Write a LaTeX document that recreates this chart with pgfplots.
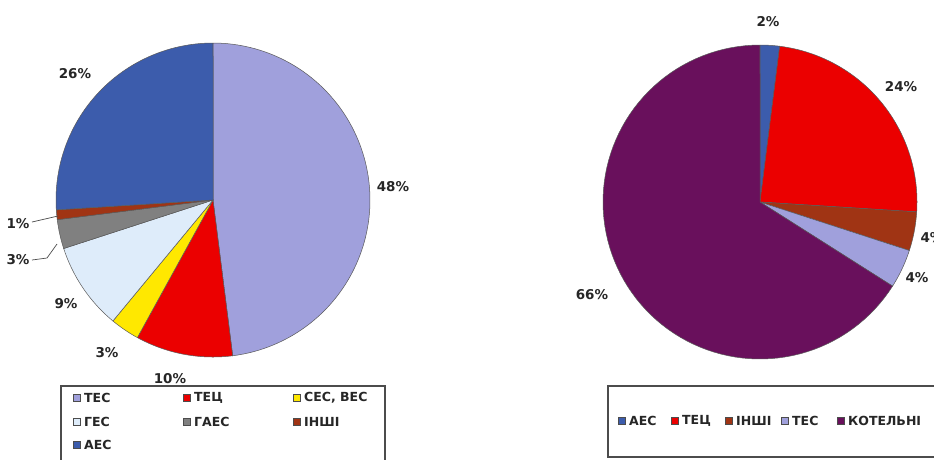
\documentclass[border=0pt]{standalone}
\usepackage{pgfplots}
\pgfplotsset{compat=1.18}
\usepackage{fontspec}
\setmainfont{DejaVu Sans}
\definecolor{tes}{RGB}{160,160,220}
\definecolor{tec}{RGB}{235,0,0}
\definecolor{ses}{RGB}{255,232,0}
\definecolor{ges}{RGB}{222,236,250}
\definecolor{gaes}{RGB}{128,128,128}
\definecolor{inshi}{RGB}{160,52,20}
\definecolor{aes}{RGB}{60,92,172}
\definecolor{kot}{RGB}{105,16,92}
% slice: cx, cy, r, start%, end%, colour  (pixel coords, y downwards)
\newcommand{\slice}[6]{%
  \addplot[fill=#6, draw=black!65, line width=0.5pt, domain=#4:#5, samples=90, variable=\t]
    ({#1+#3*cos(-90+3.6*\t)}, {#2+#3*sin(-90+3.6*\t)}) -- (axis cs:#1,#2) -- cycle;}
\newcommand{\lsq}[3]{% x, y, colour
  \draw[fill=#3, draw=black!70, line width=0.6pt] (axis cs:#1-3.5,#2-3.5) rectangle (axis cs:#1+3.5,#2+3.5);}
\begin{document}
\begin{tikzpicture}
\begin{axis}[at={(0,0)}, anchor=south west, scale only axis,
  width=934pt, height=459pt, xmin=0, xmax=934, ymin=0, ymax=459,
  y dir=reverse, hide axis, clip=false]
% full picture extent
\path (axis cs:0,0) -- (axis cs:934,459);
% ---- left pie: TES 48, TEC 10, SES/VES 3, GES 9, GAES 3, INSHI 1, AES 26
\slice{213}{200}{157}{0}{48}{tes}
\slice{213}{200}{157}{48}{58}{tec}
\slice{213}{200}{157}{58}{61}{ses}
\slice{213}{200}{157}{61}{70}{ges}
\slice{213}{200}{157}{70}{73}{gaes}
\slice{213}{200}{157}{73}{74}{inshi}
\slice{213}{200}{157}{74}{100}{aes}
% ---- right pie: AES 2, TEC 24, INSHI 4, TES 4, KOTELNI 66
\slice{760}{202}{157}{0}{2}{aes}
\slice{760}{202}{157}{2}{26}{tec}
\slice{760}{202}{157}{26}{30}{inshi}
\slice{760}{202}{157}{30}{34}{tes}
\slice{760}{202}{157}{34}{100}{kot}
% ---- labels
\begin{scope}[every node/.style={font=\bfseries\fontsize{13.5}{14}\selectfont, text=black!85, inner sep=0pt}]
\node at (axis cs:75,74) {26\%};
\node at (axis cs:393,187) {48\%};
\node at (axis cs:170,379) {10\%};
\node at (axis cs:107,353) {3\%};
\node at (axis cs:66,304) {9\%};
\node at (axis cs:18,260) {3\%};
\node at (axis cs:18,224) {1\%};
\node at (axis cs:768,22) {2\%};
\node at (axis cs:901,87) {24\%};
\node at (axis cs:917,278) {4\%};
\node[overlay] at (axis cs:932,238) {4\%};
\node at (axis cs:592,295) {66\%};
\end{scope}
\draw[black!70, line width=0.7pt] (axis cs:32,222) -- (axis cs:58,216);
\draw[black!70, line width=0.7pt] (axis cs:32,260) -- (axis cs:47,258) -- (axis cs:57,244);
% ---- legend frames (cut by the picture's edge)
\draw[overlay, black!70, line width=1.3pt] (axis cs:61,386) rectangle (axis cs:385,475);
\draw[overlay, black!70, line width=1.3pt] (axis cs:608,386) rectangle (axis cs:960,457);
\begin{scope}[every node/.style={font=\bfseries\fontsize{12.5}{13}\selectfont, text=black!85, inner sep=0pt, anchor=west}]
\lsq{77}{398}{tes}\node at (axis cs:84,398) {ТЕС};
\lsq{187}{398}{tec}\node at (axis cs:194,398) {ТЕЦ};
\lsq{297}{398}{ses}\node at (axis cs:304,398) {СЕС, ВЕС};
\lsq{77}{422}{ges}\node at (axis cs:84,422) {ГЕС};
\lsq{187}{422}{gaes}\node at (axis cs:194,422) {ГАЕС};
\lsq{297}{422}{inshi}\node at (axis cs:304,422) {ІНШІ};
\lsq{77}{445}{aes}\node at (axis cs:84,445) {АЕС};
\lsq{622}{421}{aes}\node at (axis cs:629,421) {АЕС};
\lsq{675}{421}{tec}\node at (axis cs:682,421) {ТЕЦ};
\lsq{729}{421}{inshi}\node at (axis cs:736,421) {ІНШІ};
\lsq{785}{421}{tes}\node at (axis cs:792,421) {ТЕС};
\lsq{841}{421}{kot}\node at (axis cs:848,421) {КОТЕЛЬНІ};
\end{scope}
\end{axis}
\end{tikzpicture}
\end{document}
